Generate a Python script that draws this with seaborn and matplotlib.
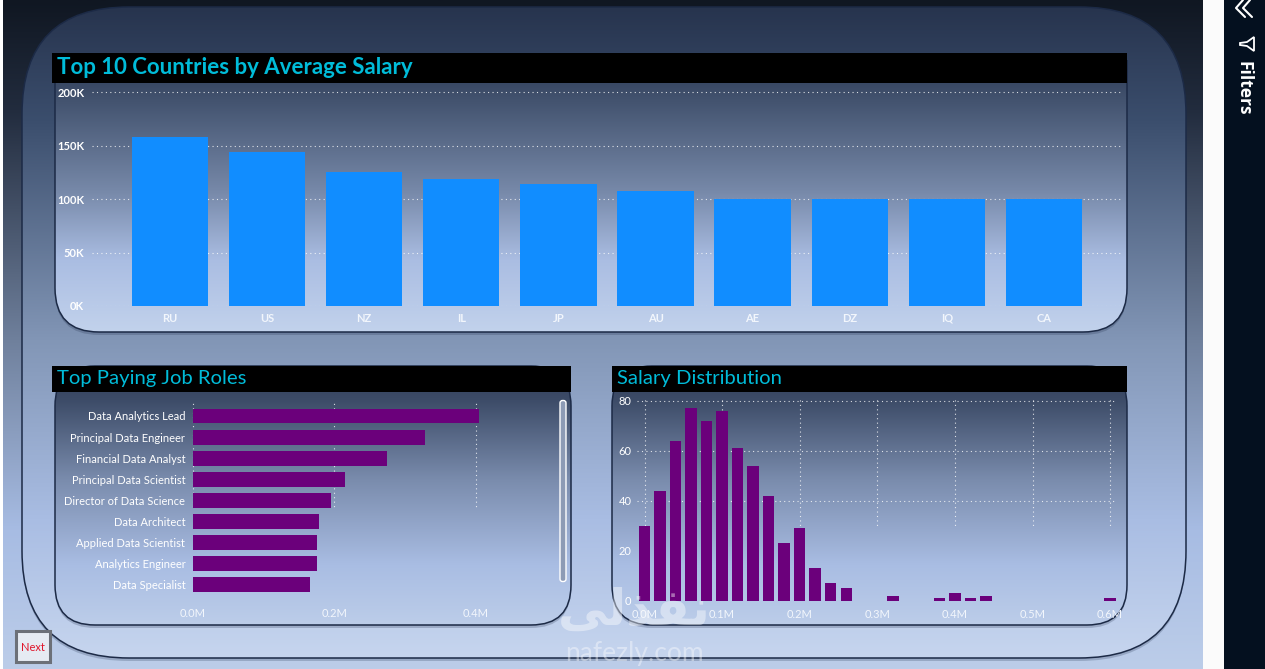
import numpy as np
import pandas as pd
import matplotlib
matplotlib.use('Agg')
import matplotlib.pyplot as plt
import seaborn as sns
from matplotlib.colors import LinearSegmentedColormap
from matplotlib.patches import FancyBboxPatch, Rectangle, Polygon

# chart values
countries = ['RU', 'US', 'NZ', 'IL', 'JP', 'AU', 'AE', 'DZ', 'IQ', 'CA']
avg_salary = [158000, 144000, 125000, 119000, 114000, 108000, 100000, 100000, 100000, 100000]

job_roles = ['Data Analytics Lead', 'Principal Data Engineer', 'Financial Data Analyst',
             'Principal Data Scientist', 'Director of Data Science', 'Data Architect',
             'Applied Data Scientist', 'Analytics Engineer', 'Data Specialist']
role_salary = [0.405, 0.328, 0.2745, 0.215, 0.195, 0.178, 0.1755, 0.175, 0.165]

salary_bins = [0.0, 0.02, 0.04, 0.06, 0.08, 0.10, 0.12, 0.14, 0.16, 0.18, 0.20, 0.22, 0.24, 0.26,
               0.32, 0.38, 0.40, 0.42, 0.44, 0.60]
bin_counts = [30, 44, 64, 77, 72, 76, 61, 54, 42, 23, 29, 13, 7, 5, 2, 1, 3, 1, 2, 1]

W, H = 1265, 669
TITLE = '#00bcd9'
FONT = 'Lato'

sns.set_theme(style='white')
plt.rcParams['font.family'] = [FONT, 'DejaVu Sans']
plt.rcParams['savefig.facecolor'] = 'white'

fig = plt.figure(figsize=(W / 100, H / 100), dpi=100, facecolor='white')


def px_axes(left, top, right, bottom, z=1):
    # axes placed by screen pixels, y going down
    ax = fig.add_axes([left / W, 1 - bottom / H, (right - left) / W, (bottom - top) / H], zorder=z)
    ax.patch.set_visible(False)
    return ax


bg = px_axes(0, 0, W, H, z=0)
bg.set_xlim(0, W)
bg.set_ylim(H, 0)
bg.axis('off')


def gradient(left, top, right, bottom, stops, z, radius=0, border=None, cut_top=None):
    # vertical gradient filling a (rounded) box; cut_top hides everything above that y
    start = top if cut_top is None else cut_top
    cmap = LinearSegmentedColormap.from_list('g', [((y - start) / (bottom - start), c) for y, c in stops])
    if radius:
        style = f'round,pad={radius},rounding_size={radius}'
        box = FancyBboxPatch((left + radius, top + radius), right - left - 2 * radius,
                             bottom - top - 2 * radius, boxstyle=style, fc='none', ec='none', zorder=z + 0.2)
        shadow = FancyBboxPatch((left + radius, top + radius + 3), right - left - 2 * radius,
                                bottom - top - 2 * radius, boxstyle=style, fc='#1c2a46', ec='none',
                                alpha=0.22, zorder=z)
        bg.add_patch(shadow)
    else:
        box = Rectangle((left, top), right - left, bottom - top, fc='none', ec='none', zorder=z + 0.2)
        shadow = None
    bg.add_patch(box)
    img = bg.imshow(np.linspace(0, 1, 256).reshape(-1, 1), cmap=cmap, aspect='auto', vmin=0, vmax=1,
                    extent=(left, right, bottom, start), zorder=z + 0.1)
    img.set_clip_path(box)
    if border:
        box.set_edgecolor(border)
        box.set_linewidth(1.1)
    if cut_top is not None:
        keep = Rectangle((left - 5, cut_top), right - left + 10, bottom - cut_top + 10, transform=bg.transData)
        box.set_clip_path(keep)
        if shadow is not None:
            shadow.set_clip_path(keep)


def fade_grid(ax, left, top, right, bottom):
    # the dotted lines vanish into the light part of the panel
    keep = Rectangle((left, top), right - left, bottom - top, transform=bg.transData)
    for line in ax.get_xgridlines() + ax.get_ygridlines():
        line.set_clip_path(keep)


# page and rounded panels
gradient(3, 0, 1203, H, [(0, '#101722'), (110, '#222c3e'), (340, '#6f809c'), (530, '#a7bce3'), (669, '#bccde9')], z=0)
gradient(22, 7, 1186, 658, [(7, '#27344e'), (120, '#3b4e6d'), (340, '#8296b6'), (520, '#a9bde3'), (658, '#c6d5ee')],
         z=1, radius=107, border='#1c2a46')
lower_stops = [(366, '#2f3d59'), (400, '#3d4c68'), (480, '#7a8cad'), (565, '#a9bde3'), (625, '#bccde9')]
gradient(55, 10, 1127, 332, [(60, '#2c3a55'), (100, '#43536f'), (190, '#7688a8'), (260, '#aabde2'), (332, '#c2d2ec')],
         z=2, radius=44, border='#1c2a46', cut_top=60)
gradient(55, 366, 571, 625, lower_stops, z=3, radius=40, border='#1c2a46')
gradient(612, 366, 1127, 625, lower_stops, z=4, radius=40, border='#1c2a46')

# title bars
bg.add_patch(Rectangle((52, 53), 1075, 30, fc='black', ec='none', zorder=5))
bg.add_patch(Rectangle((52, 366), 519, 26, fc='black', ec='none', zorder=5))
bg.add_patch(Rectangle((612, 366), 515, 26, fc='black', ec='none', zorder=5))
bg.text(57, 67.5, 'Top 10 Countries by Average Salary', color=TITLE, fontsize=16, fontweight='bold',
        va='center', zorder=6)
bg.text(57, 378.5, 'Top Paying Job Roles', color=TITLE, fontsize=14.6, va='center', zorder=6)
bg.text(617, 378.5, 'Salary Distribution', color=TITLE, fontsize=14.6, va='center', zorder=6)

grid_kw = dict(color='white', linewidth=0.8, linestyle=(0, (1, 3)), alpha=0.8)

# top chart
ax = px_axes(92, 90, 1122, 306, z=2)
sns.barplot(x=countries, y=avg_salary, color='#118dff', saturation=1, width=0.785, linewidth=0, ax=ax)
ax.set_xlim((92 - 170) / 97.1, (1122 - 170) / 97.1)
ax.set_ylim(0, 202000)
ax.set_yticks([0, 50000, 100000, 150000, 200000])
ax.set_yticklabels(['0K', '50K', '100K', '150K', '200K'])
ax.yaxis.grid(True, **grid_kw)
ax.set_axisbelow(True)
ax.tick_params(axis='y', colors='white', length=0, pad=5.5, labelsize=8)
ax.tick_params(axis='x', colors='#f2f6fc', length=0, pad=5, labelsize=8)
for lab in ax.get_xticklabels() + ax.get_yticklabels():
    lab.set_fontweight('bold')
sns.despine(ax=ax, left=True, bottom=True)

# job roles
ax = px_axes(193, 400, 556, 600, z=2)
roles = pd.DataFrame({'role': job_roles, 'salary': role_salary})
sns.barplot(data=roles, y='role', x='salary', color='#6b007b', saturation=1, width=0.71, orient='h',
            linewidth=0, ax=ax)
ax.set_xlim(0, (556 - 193) / 706.5)
ax.set_ylim((600 - 416) / 21.1, (400 - 416) / 21.1)
ax.set_xticks([0, 0.2, 0.4])
ax.set_xticklabels(['0.0M', '0.2M', '0.4M'])
ax.xaxis.grid(True, **grid_kw)
ax.set_axisbelow(True)
ax.set(xlabel='', ylabel='')
ax.tick_params(axis='y', colors='white', length=0, pad=5.5, labelsize=8)
ax.tick_params(axis='x', colors='#f2f6fc', length=0, pad=6, labelsize=8)
sns.despine(ax=ax, left=True, bottom=True)
fade_grid(ax, 190, 398, 556, 510)

# scrollbar of the job roles list
bg.add_patch(FancyBboxPatch((561.5, 402), 3, 178, boxstyle='round,pad=1.5,rounding_size=2.5',
                            fc='#8d9bb5', ec='white', lw=1, zorder=5))

# salary distribution
ax = px_axes(637, 399, 1116, 600.7, z=2)
sns.barplot(x=salary_bins, y=bin_counts, native_scale=True, color='#6b007b', saturation=1, width=0.74,
            linewidth=0, ax=ax)
ax.set_xlim(-7.5 / 776, (1116 - 644.5) / 776)
ax.set_ylim(0, 80.7)
ax.set_xticks([0, 0.1, 0.2, 0.3, 0.4, 0.5, 0.6])
ax.set_xticklabels(['0.0M', '0.1M', '0.2M', '0.3M', '0.4M', '0.5M', '0.6M'])
ax.set_yticks([0, 20, 40, 60, 80])
ax.grid(True, **grid_kw)
ax.set_axisbelow(True)
ax.set(xlabel='', ylabel='')
ax.tick_params(axis='y', colors='white', length=0, pad=4, labelsize=8)
ax.tick_params(axis='x', colors='#f2f6fc', length=0, pad=6, labelsize=8)
sns.despine(ax=ax, left=True, bottom=True)
fade_grid(ax, 637, 398, 1116, 528)

# next button
bg.add_patch(Rectangle((16, 631), 34, 31, fc='#e6ebf3', ec='#6c7078', lw=2.2, zorder=7))
bg.text(33, 647.5, 'Next', color='#e0162b', fontsize=8, ha='center', va='center', zorder=8)

# filter pane on the right
bg.add_patch(Rectangle((1203, 0), 21, H, fc='#fbfbfb', ec='none', zorder=6))
bg.add_patch(Rectangle((1224, 0), 41, H, fc='#04101f', ec='none', zorder=6))
for shift in (0, 7):
    bg.plot([1243 + shift, 1236 + shift, 1245 + shift], [0, 8, 17], color='white', lw=1.5, zorder=7)
bg.add_patch(Polygon([[1254, 37], [1254, 51], [1247, 46], [1240, 45], [1240, 43], [1247, 42]], closed=True,
                     fc='none', ec='white', lw=1.3, zorder=7))
bg.text(1243, 88.5, 'Filters', color='white', fontsize=12.5, fontweight='bold', rotation=-90, ha='center',
        va='center', family='Open Sans', zorder=7)

# site watermark, arabic letters in visual order
fig.text(634 / W, 1 - 611 / H, '\ufef0\ufedf\ufeac\ufed4\ufee7', color='white', alpha=0.42, fontsize=36,
         fontweight='bold', family='DejaVu Sans', ha='center', va='center', zorder=9)
fig.text(634 / W, 1 - 654 / H, 'nafezly.com', color='white', alpha=0.4, fontsize=19, ha='center', va='center', zorder=9)

fig.savefig('out.png', dpi=100)
